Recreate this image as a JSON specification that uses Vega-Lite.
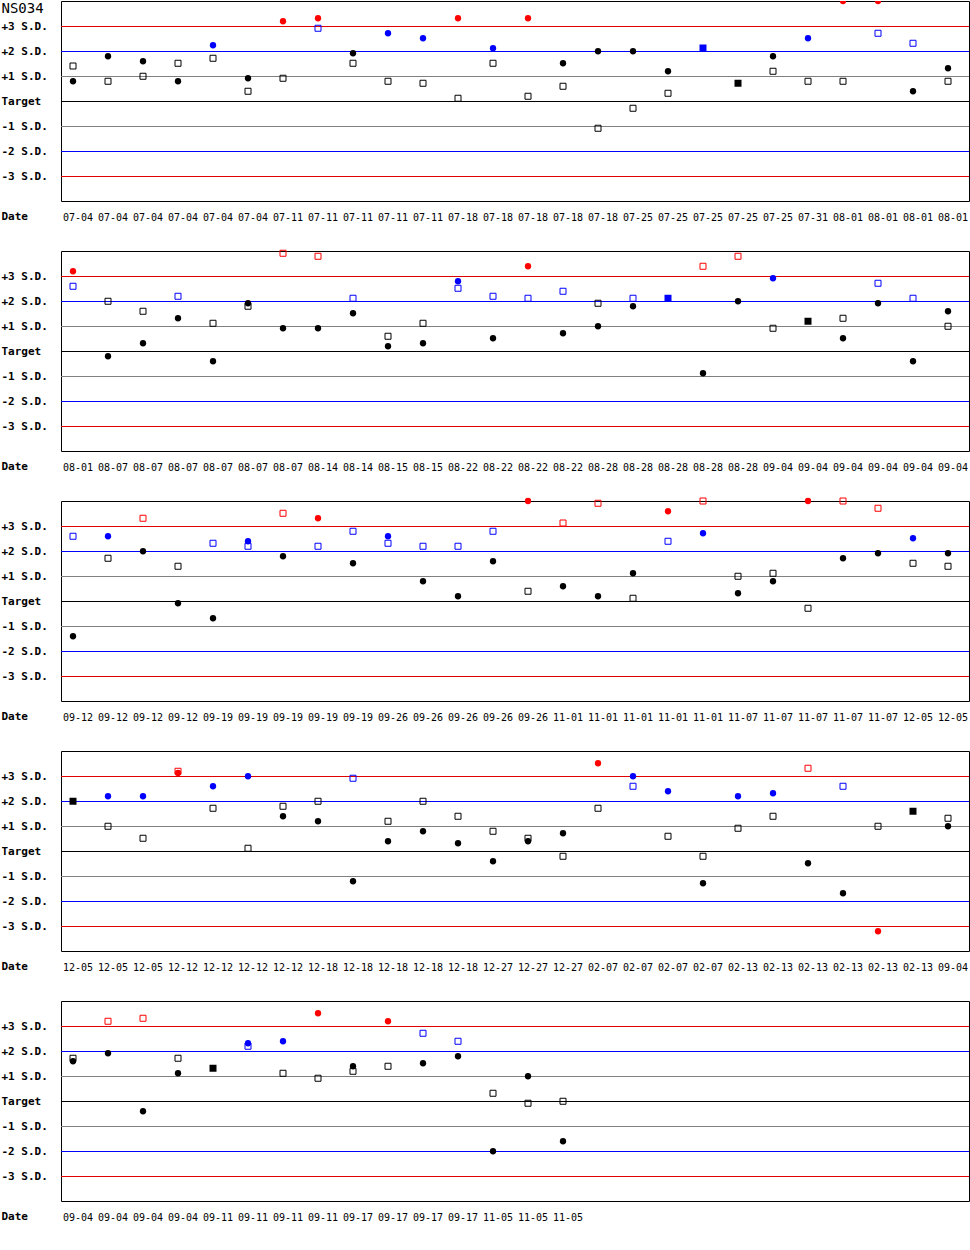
{
"$schema": "https://vega.github.io/schema/vega-lite/v6.json",
"padding": 0,
"background": "white",
"bounds": "flush",
"spacing": 50,
"config": {"view": {"stroke": "#000000", "strokeWidth": 1}},
"datasets": {
"levels": [
{"lv":3,"k":"sd3"},{"lv":2,"k":"sd2"},{"lv":1,"k":"sd1"},{"lv":0,"k":"t"},{"lv":-1,"k":"sd1"},{"lv":-2,"k":"sd2"},{"lv":-3,"k":"sd3"}
],
"pts": [
{"p":1,"i":0,"m":"o","f":"k","v":1.4},{"p":1,"i":0,"m":"c","f":"k","v":0.79},
{"p":1,"i":1,"m":"c","f":"k","v":1.79},{"p":1,"i":1,"m":"o","f":"k","v":0.79},
{"p":1,"i":2,"m":"c","f":"k","v":1.59},{"p":1,"i":2,"m":"o","f":"k","v":0.99},
{"p":1,"i":3,"m":"o","f":"k","v":1.51},{"p":1,"i":3,"m":"c","f":"k","v":0.79},
{"p":1,"i":4,"m":"c","f":"b","v":2.23},{"p":1,"i":4,"m":"o","f":"k","v":1.71},
{"p":1,"i":5,"m":"c","f":"k","v":0.91},{"p":1,"i":5,"m":"o","f":"k","v":0.39},
{"p":1,"i":6,"m":"c","f":"r","v":3.19},{"p":1,"i":6,"m":"o","f":"k","v":0.91},
{"p":1,"i":7,"m":"c","f":"r","v":3.31},{"p":1,"i":7,"m":"o","f":"b","v":2.91},
{"p":1,"i":8,"m":"c","f":"k","v":1.91},{"p":1,"i":8,"m":"o","f":"k","v":1.51},
{"p":1,"i":9,"m":"c","f":"b","v":2.71},{"p":1,"i":9,"m":"o","f":"k","v":0.79},
{"p":1,"i":10,"m":"c","f":"b","v":2.51},{"p":1,"i":10,"m":"o","f":"k","v":0.71},
{"p":1,"i":11,"m":"c","f":"r","v":3.31},{"p":1,"i":11,"m":"o","f":"k","v":0.11},
{"p":1,"i":12,"m":"c","f":"b","v":2.11},{"p":1,"i":12,"m":"o","f":"k","v":1.51},
{"p":1,"i":13,"m":"c","f":"r","v":3.31},{"p":1,"i":13,"m":"o","f":"k","v":0.19},
{"p":1,"i":14,"m":"c","f":"k","v":1.51},{"p":1,"i":14,"m":"o","f":"k","v":0.59},
{"p":1,"i":15,"m":"c","f":"k","v":1.99},{"p":1,"i":15,"m":"o","f":"k","v":-1.09},
{"p":1,"i":16,"m":"c","f":"k","v":1.99},{"p":1,"i":16,"m":"o","f":"k","v":-0.29},
{"p":1,"i":17,"m":"c","f":"k","v":1.19},{"p":1,"i":17,"m":"o","f":"k","v":0.31},
{"p":1,"i":18,"m":"s","f":"b","v":2.12},
{"p":1,"i":19,"m":"s","f":"k","v":0.71},
{"p":1,"i":20,"m":"c","f":"k","v":1.79},{"p":1,"i":20,"m":"o","f":"k","v":1.19},
{"p":1,"i":21,"m":"c","f":"b","v":2.51},{"p":1,"i":21,"m":"o","f":"k","v":0.79},
{"p":1,"i":22,"m":"c","f":"r","v":4.0},{"p":1,"i":22,"m":"o","f":"k","v":0.79},
{"p":1,"i":23,"m":"c","f":"r","v":4.0},{"p":1,"i":23,"m":"o","f":"b","v":2.71},
{"p":1,"i":24,"m":"o","f":"b","v":2.31},{"p":1,"i":24,"m":"c","f":"k","v":0.39},
{"p":1,"i":25,"m":"c","f":"k","v":1.31},{"p":1,"i":25,"m":"o","f":"k","v":0.79},

{"p":2,"i":0,"m":"c","f":"r","v":3.19},{"p":2,"i":0,"m":"o","f":"b","v":2.59},
{"p":2,"i":1,"m":"o","f":"k","v":1.99},{"p":2,"i":1,"m":"c","f":"k","v":-0.21},
{"p":2,"i":2,"m":"o","f":"k","v":1.59},{"p":2,"i":2,"m":"c","f":"k","v":0.31},
{"p":2,"i":3,"m":"o","f":"b","v":2.19},{"p":2,"i":3,"m":"c","f":"k","v":1.31},
{"p":2,"i":4,"m":"o","f":"k","v":1.11},{"p":2,"i":4,"m":"c","f":"k","v":-0.41},
{"p":2,"i":5,"m":"c","f":"k","v":1.91},{"p":2,"i":5,"m":"o","f":"k","v":1.79},
{"p":2,"i":6,"m":"o","f":"r","v":3.91},{"p":2,"i":6,"m":"c","f":"k","v":0.91},
{"p":2,"i":7,"m":"o","f":"r","v":3.79},{"p":2,"i":7,"m":"c","f":"k","v":0.91},
{"p":2,"i":8,"m":"o","f":"b","v":2.11},{"p":2,"i":8,"m":"c","f":"k","v":1.51},
{"p":2,"i":9,"m":"o","f":"k","v":0.59},{"p":2,"i":9,"m":"c","f":"k","v":0.19},
{"p":2,"i":10,"m":"o","f":"k","v":1.11},{"p":2,"i":10,"m":"c","f":"k","v":0.31},
{"p":2,"i":11,"m":"c","f":"b","v":2.79},{"p":2,"i":11,"m":"o","f":"b","v":2.51},
{"p":2,"i":12,"m":"o","f":"b","v":2.19},{"p":2,"i":12,"m":"c","f":"k","v":0.51},
{"p":2,"i":13,"m":"c","f":"r","v":3.39},{"p":2,"i":13,"m":"o","f":"b","v":2.11},
{"p":2,"i":14,"m":"o","f":"b","v":2.39},{"p":2,"i":14,"m":"c","f":"k","v":0.71},
{"p":2,"i":15,"m":"o","f":"k","v":1.91},{"p":2,"i":15,"m":"c","f":"k","v":0.99},
{"p":2,"i":16,"m":"o","f":"b","v":2.11},{"p":2,"i":16,"m":"c","f":"k","v":1.79},
{"p":2,"i":17,"m":"s","f":"b","v":2.11},
{"p":2,"i":18,"m":"o","f":"r","v":3.39},{"p":2,"i":18,"m":"c","f":"k","v":-0.89},
{"p":2,"i":19,"m":"o","f":"r","v":3.79},{"p":2,"i":19,"m":"c","f":"k","v":1.99},
{"p":2,"i":20,"m":"c","f":"b","v":2.91},{"p":2,"i":20,"m":"o","f":"k","v":0.91},
{"p":2,"i":21,"m":"s","f":"k","v":1.19},
{"p":2,"i":22,"m":"o","f":"k","v":1.31},{"p":2,"i":22,"m":"c","f":"k","v":0.51},
{"p":2,"i":23,"m":"o","f":"b","v":2.71},{"p":2,"i":23,"m":"c","f":"k","v":1.91},
{"p":2,"i":24,"m":"o","f":"b","v":2.11},{"p":2,"i":24,"m":"c","f":"k","v":-0.41},
{"p":2,"i":25,"m":"c","f":"k","v":1.59},{"p":2,"i":25,"m":"o","f":"k","v":0.99},

{"p":3,"i":0,"m":"o","f":"b","v":2.59},{"p":3,"i":0,"m":"c","f":"k","v":-1.41},
{"p":3,"i":1,"m":"c","f":"b","v":2.59},{"p":3,"i":1,"m":"o","f":"k","v":1.71},
{"p":3,"i":2,"m":"o","f":"r","v":3.31},{"p":3,"i":2,"m":"c","f":"k","v":1.99},
{"p":3,"i":3,"m":"o","f":"k","v":1.39},{"p":3,"i":3,"m":"c","f":"k","v":-0.09},
{"p":3,"i":4,"m":"o","f":"b","v":2.31},{"p":3,"i":4,"m":"c","f":"k","v":-0.69},
{"p":3,"i":5,"m":"c","f":"b","v":2.39},{"p":3,"i":5,"m":"o","f":"b","v":2.19},
{"p":3,"i":6,"m":"o","f":"r","v":3.51},{"p":3,"i":6,"m":"c","f":"k","v":1.79},
{"p":3,"i":7,"m":"c","f":"r","v":3.31},{"p":3,"i":7,"m":"o","f":"b","v":2.19},
{"p":3,"i":8,"m":"o","f":"b","v":2.79},{"p":3,"i":8,"m":"c","f":"k","v":1.51},
{"p":3,"i":9,"m":"c","f":"b","v":2.59},{"p":3,"i":9,"m":"o","f":"b","v":2.31},
{"p":3,"i":10,"m":"o","f":"b","v":2.19},{"p":3,"i":10,"m":"c","f":"k","v":0.79},
{"p":3,"i":11,"m":"o","f":"b","v":2.19},{"p":3,"i":11,"m":"c","f":"k","v":0.19},
{"p":3,"i":12,"m":"o","f":"b","v":2.79},{"p":3,"i":12,"m":"c","f":"k","v":1.59},
{"p":3,"i":13,"m":"c","f":"r","v":4.0},{"p":3,"i":13,"m":"o","f":"k","v":0.39},
{"p":3,"i":14,"m":"o","f":"r","v":3.12},{"p":3,"i":14,"m":"c","f":"k","v":0.59},
{"p":3,"i":15,"m":"o","f":"r","v":3.91},{"p":3,"i":15,"m":"c","f":"k","v":0.19},
{"p":3,"i":16,"m":"c","f":"k","v":1.11},{"p":3,"i":16,"m":"o","f":"k","v":0.11},
{"p":3,"i":17,"m":"c","f":"r","v":3.59},{"p":3,"i":17,"m":"o","f":"b","v":2.39},
{"p":3,"i":18,"m":"o","f":"r","v":4.0},{"p":3,"i":18,"m":"c","f":"b","v":2.71},
{"p":3,"i":19,"m":"o","f":"k","v":0.99},{"p":3,"i":19,"m":"c","f":"k","v":0.31},
{"p":3,"i":20,"m":"o","f":"k","v":1.11},{"p":3,"i":20,"m":"c","f":"k","v":0.79},
{"p":3,"i":21,"m":"c","f":"r","v":4.0},{"p":3,"i":21,"m":"o","f":"k","v":-0.29},
{"p":3,"i":22,"m":"o","f":"r","v":4.0},{"p":3,"i":22,"m":"c","f":"k","v":1.71},
{"p":3,"i":23,"m":"o","f":"r","v":3.71},{"p":3,"i":23,"m":"c","f":"k","v":1.91},
{"p":3,"i":24,"m":"c","f":"b","v":2.51},{"p":3,"i":24,"m":"o","f":"k","v":1.51},
{"p":3,"i":25,"m":"c","f":"k","v":1.91},{"p":3,"i":25,"m":"o","f":"k","v":1.39},

{"p":4,"i":0,"m":"s","f":"k","v":1.99},
{"p":4,"i":1,"m":"c","f":"b","v":2.19},{"p":4,"i":1,"m":"o","f":"k","v":0.99},
{"p":4,"i":2,"m":"c","f":"b","v":2.19},{"p":4,"i":2,"m":"o","f":"k","v":0.51},
{"p":4,"i":3,"m":"o","f":"r","v":3.19},{"p":4,"i":3,"m":"c","f":"r","v":3.12},
{"p":4,"i":4,"m":"c","f":"b","v":2.59},{"p":4,"i":4,"m":"o","f":"k","v":1.71},
{"p":4,"i":5,"m":"c","f":"b","v":2.99},{"p":4,"i":5,"m":"o","f":"k","v":0.11},
{"p":4,"i":6,"m":"o","f":"k","v":1.79},{"p":4,"i":6,"m":"c","f":"k","v":1.39},
{"p":4,"i":7,"m":"o","f":"k","v":1.99},{"p":4,"i":7,"m":"c","f":"k","v":1.19},
{"p":4,"i":8,"m":"o","f":"b","v":2.91},{"p":4,"i":8,"m":"c","f":"k","v":-1.21},
{"p":4,"i":9,"m":"o","f":"k","v":1.19},{"p":4,"i":9,"m":"c","f":"k","v":0.39},
{"p":4,"i":10,"m":"o","f":"k","v":1.99},{"p":4,"i":10,"m":"c","f":"k","v":0.79},
{"p":4,"i":11,"m":"o","f":"k","v":1.39},{"p":4,"i":11,"m":"c","f":"k","v":0.31},
{"p":4,"i":12,"m":"o","f":"k","v":0.79},{"p":4,"i":12,"m":"c","f":"k","v":-0.41},
{"p":4,"i":13,"m":"o","f":"k","v":0.51},{"p":4,"i":13,"m":"c","f":"k","v":0.39},
{"p":4,"i":14,"m":"c","f":"k","v":0.71},{"p":4,"i":14,"m":"o","f":"k","v":-0.21},
{"p":4,"i":15,"m":"c","f":"r","v":3.51},{"p":4,"i":15,"m":"o","f":"k","v":1.71},
{"p":4,"i":16,"m":"c","f":"b","v":2.99},{"p":4,"i":16,"m":"o","f":"b","v":2.59},
{"p":4,"i":17,"m":"c","f":"b","v":2.39},{"p":4,"i":17,"m":"o","f":"k","v":0.59},
{"p":4,"i":18,"m":"o","f":"k","v":-0.21},{"p":4,"i":18,"m":"c","f":"k","v":-1.29},
{"p":4,"i":19,"m":"c","f":"b","v":2.19},{"p":4,"i":19,"m":"o","f":"k","v":0.91},
{"p":4,"i":20,"m":"c","f":"b","v":2.31},{"p":4,"i":20,"m":"o","f":"k","v":1.39},
{"p":4,"i":21,"m":"o","f":"r","v":3.31},{"p":4,"i":21,"m":"c","f":"k","v":-0.49},
{"p":4,"i":22,"m":"o","f":"b","v":2.59},{"p":4,"i":22,"m":"c","f":"k","v":-1.69},
{"p":4,"i":23,"m":"o","f":"k","v":0.99},{"p":4,"i":23,"m":"c","f":"r","v":-3.21},
{"p":4,"i":24,"m":"s","f":"k","v":1.59},
{"p":4,"i":25,"m":"o","f":"k","v":1.31},{"p":4,"i":25,"m":"c","f":"k","v":0.99},

{"p":5,"i":0,"m":"o","f":"k","v":1.71},{"p":5,"i":0,"m":"c","f":"k","v":1.59},
{"p":5,"i":1,"m":"o","f":"r","v":3.19},{"p":5,"i":1,"m":"c","f":"k","v":1.91},
{"p":5,"i":2,"m":"o","f":"r","v":3.31},{"p":5,"i":2,"m":"c","f":"k","v":-0.41},
{"p":5,"i":3,"m":"o","f":"k","v":1.71},{"p":5,"i":3,"m":"c","f":"k","v":1.11},
{"p":5,"i":4,"m":"s","f":"k","v":1.31},
{"p":5,"i":5,"m":"c","f":"b","v":2.31},{"p":5,"i":5,"m":"o","f":"b","v":2.19},
{"p":5,"i":6,"m":"c","f":"b","v":2.39},{"p":5,"i":6,"m":"o","f":"k","v":1.11},
{"p":5,"i":7,"m":"c","f":"r","v":3.51},{"p":5,"i":7,"m":"o","f":"k","v":0.91},
{"p":5,"i":8,"m":"c","f":"k","v":1.39},{"p":5,"i":8,"m":"o","f":"k","v":1.19},
{"p":5,"i":9,"m":"c","f":"r","v":3.19},{"p":5,"i":9,"m":"o","f":"k","v":1.39},
{"p":5,"i":10,"m":"o","f":"b","v":2.71},{"p":5,"i":10,"m":"c","f":"k","v":1.51},
{"p":5,"i":11,"m":"o","f":"b","v":2.39},{"p":5,"i":11,"m":"c","f":"k","v":1.79},
{"p":5,"i":12,"m":"o","f":"k","v":0.31},{"p":5,"i":12,"m":"c","f":"k","v":-2.01},
{"p":5,"i":13,"m":"c","f":"k","v":0.99},{"p":5,"i":13,"m":"o","f":"k","v":-0.09},
{"p":5,"i":14,"m":"o","f":"k","v":-0.01},{"p":5,"i":14,"m":"c","f":"k","v":-1.61}
],
"dates": [
{"p":1,"i":0,"d":"07-04"},{"p":1,"i":1,"d":"07-04"},{"p":1,"i":2,"d":"07-04"},{"p":1,"i":3,"d":"07-04"},{"p":1,"i":4,"d":"07-04"},{"p":1,"i":5,"d":"07-04"},
{"p":1,"i":6,"d":"07-11"},{"p":1,"i":7,"d":"07-11"},{"p":1,"i":8,"d":"07-11"},{"p":1,"i":9,"d":"07-11"},{"p":1,"i":10,"d":"07-11"},
{"p":1,"i":11,"d":"07-18"},{"p":1,"i":12,"d":"07-18"},{"p":1,"i":13,"d":"07-18"},{"p":1,"i":14,"d":"07-18"},{"p":1,"i":15,"d":"07-18"},
{"p":1,"i":16,"d":"07-25"},{"p":1,"i":17,"d":"07-25"},{"p":1,"i":18,"d":"07-25"},{"p":1,"i":19,"d":"07-25"},{"p":1,"i":20,"d":"07-25"},
{"p":1,"i":21,"d":"07-31"},{"p":1,"i":22,"d":"08-01"},{"p":1,"i":23,"d":"08-01"},{"p":1,"i":24,"d":"08-01"},{"p":1,"i":25,"d":"08-01"},
{"p":2,"i":0,"d":"08-01"},{"p":2,"i":1,"d":"08-07"},{"p":2,"i":2,"d":"08-07"},{"p":2,"i":3,"d":"08-07"},{"p":2,"i":4,"d":"08-07"},{"p":2,"i":5,"d":"08-07"},{"p":2,"i":6,"d":"08-07"},
{"p":2,"i":7,"d":"08-14"},{"p":2,"i":8,"d":"08-14"},{"p":2,"i":9,"d":"08-15"},{"p":2,"i":10,"d":"08-15"},
{"p":2,"i":11,"d":"08-22"},{"p":2,"i":12,"d":"08-22"},{"p":2,"i":13,"d":"08-22"},{"p":2,"i":14,"d":"08-22"},
{"p":2,"i":15,"d":"08-28"},{"p":2,"i":16,"d":"08-28"},{"p":2,"i":17,"d":"08-28"},{"p":2,"i":18,"d":"08-28"},{"p":2,"i":19,"d":"08-28"},
{"p":2,"i":20,"d":"09-04"},{"p":2,"i":21,"d":"09-04"},{"p":2,"i":22,"d":"09-04"},{"p":2,"i":23,"d":"09-04"},{"p":2,"i":24,"d":"09-04"},{"p":2,"i":25,"d":"09-04"},
{"p":3,"i":0,"d":"09-12"},{"p":3,"i":1,"d":"09-12"},{"p":3,"i":2,"d":"09-12"},{"p":3,"i":3,"d":"09-12"},
{"p":3,"i":4,"d":"09-19"},{"p":3,"i":5,"d":"09-19"},{"p":3,"i":6,"d":"09-19"},{"p":3,"i":7,"d":"09-19"},{"p":3,"i":8,"d":"09-19"},
{"p":3,"i":9,"d":"09-26"},{"p":3,"i":10,"d":"09-26"},{"p":3,"i":11,"d":"09-26"},{"p":3,"i":12,"d":"09-26"},{"p":3,"i":13,"d":"09-26"},
{"p":3,"i":14,"d":"11-01"},{"p":3,"i":15,"d":"11-01"},{"p":3,"i":16,"d":"11-01"},{"p":3,"i":17,"d":"11-01"},{"p":3,"i":18,"d":"11-01"},
{"p":3,"i":19,"d":"11-07"},{"p":3,"i":20,"d":"11-07"},{"p":3,"i":21,"d":"11-07"},{"p":3,"i":22,"d":"11-07"},{"p":3,"i":23,"d":"11-07"},
{"p":3,"i":24,"d":"12-05"},{"p":3,"i":25,"d":"12-05"},
{"p":4,"i":0,"d":"12-05"},{"p":4,"i":1,"d":"12-05"},{"p":4,"i":2,"d":"12-05"},
{"p":4,"i":3,"d":"12-12"},{"p":4,"i":4,"d":"12-12"},{"p":4,"i":5,"d":"12-12"},{"p":4,"i":6,"d":"12-12"},
{"p":4,"i":7,"d":"12-18"},{"p":4,"i":8,"d":"12-18"},{"p":4,"i":9,"d":"12-18"},{"p":4,"i":10,"d":"12-18"},{"p":4,"i":11,"d":"12-18"},
{"p":4,"i":12,"d":"12-27"},{"p":4,"i":13,"d":"12-27"},{"p":4,"i":14,"d":"12-27"},
{"p":4,"i":15,"d":"02-07"},{"p":4,"i":16,"d":"02-07"},{"p":4,"i":17,"d":"02-07"},{"p":4,"i":18,"d":"02-07"},
{"p":4,"i":19,"d":"02-13"},{"p":4,"i":20,"d":"02-13"},{"p":4,"i":21,"d":"02-13"},{"p":4,"i":22,"d":"02-13"},{"p":4,"i":23,"d":"02-13"},{"p":4,"i":24,"d":"02-13"},
{"p":4,"i":25,"d":"09-04"},
{"p":5,"i":0,"d":"09-04"},{"p":5,"i":1,"d":"09-04"},{"p":5,"i":2,"d":"09-04"},{"p":5,"i":3,"d":"09-04"},
{"p":5,"i":4,"d":"09-11"},{"p":5,"i":5,"d":"09-11"},{"p":5,"i":6,"d":"09-11"},{"p":5,"i":7,"d":"09-11"},
{"p":5,"i":8,"d":"09-17"},{"p":5,"i":9,"d":"09-17"},{"p":5,"i":10,"d":"09-17"},{"p":5,"i":11,"d":"09-17"},
{"p":5,"i":12,"d":"11-05"},{"p":5,"i":13,"d":"11-05"},{"p":5,"i":14,"d":"11-05"}
]
},
"vconcat": [
{"width": 908, "height": 200, "layer": [
 {"data": {"name": "levels"}, "mark": {"type": "rule", "strokeWidth": 1, "yOffset": 0.5},
  "encoding": {"y": {"field": "lv", "type": "quantitative", "title": null},
   "stroke": {"field": "k", "type": "nominal", "scale": {"domain": ["sd3", "sd2", "sd1", "t"], "range": ["#e00000", "#0000ff", "#808080", "#000000"]}, "legend": null}}},
 {"data": {"name": "pts"}, "transform": [{"filter": "datum.p == 1 && datum.m == 'o'"}],
  "mark": {"type": "point", "shape": "square", "filled": false, "size": 36, "strokeWidth": 1, "opacity": 1, "clip": true},
  "encoding": {
   "x": {"field": "i", "type": "quantitative", "scale": {"domain": [-0.343, 25.6], "nice": false, "zero": false},
    "axis": {"title": "Date", "labels": false, "ticks": false, "domain": false, "grid": false, "titleX": -60, "titleY": 15, "titleAlign": "left", "titleBaseline": "middle", "titleFont": "DejaVu Sans Mono", "titleFontSize": 11, "titleFontWeight": "bold", "titleColor": "#000000"}},
   "y": {"field": "v", "type": "quantitative", "scale": {"domain": [-4, 4], "nice": false, "zero": false},
    "axis": {"title": null, "values": [3.7, 3, 2, 1, 0, -1, -2, -3], "tickCount": 20, "grid": false,
     "ticks": false, "tickSize": 0, "domain": false, "labelAlign": "left", "labelBaseline": "middle", "labelPadding": 60, "labelFont": "DejaVu Sans Mono",
     "labelFontSize": {"condition": {"test": "datum.value == 3.7", "value": 14}, "value": 11},
     "labelFontWeight": {"condition": {"test": "datum.value == 3.7", "value": "normal"}, "value": "bold"},
     "labelColor": "#000000", "labelOverlap": false, "labelBound": false,
     "labelExpr": "datum.value == 3.7 ? 'NS034' : datum.value == 0 ? 'Target' : (datum.value > 0 ? '+' : '') + datum.value + ' S.D.'"}},
   "color": {"field": "f", "type": "nominal", "scale": {"domain": ["k", "b", "r"], "range": ["#000000", "#0000ff", "#ff0000"]}, "legend": null}}},
 {"data": {"name": "pts"}, "transform": [{"filter": "datum.p == 1 && datum.m == 's'"}],
  "mark": {"type": "point", "shape": "square", "filled": true, "size": 49, "opacity": 1, "clip": true},
  "encoding": {"x": {"field": "i", "type": "quantitative", "title": "Date"},
   "y": {"field": "v", "type": "quantitative", "title": null},
   "color": {"field": "f", "type": "nominal", "legend": null}}},
 {"data": {"name": "pts"}, "transform": [{"filter": "datum.p == 1 && datum.m == 'c'"}],
  "mark": {"type": "point", "shape": "circle", "filled": true, "size": 40, "opacity": 1, "clip": true},
  "encoding": {"x": {"field": "i", "type": "quantitative", "title": "Date"},
   "y": {"field": "v", "type": "quantitative", "title": null},
   "color": {"field": "f", "type": "nominal", "legend": null}}},
 {"data": {"name": "dates"}, "transform": [{"filter": "datum.p == 1"}],
  "mark": {"type": "text", "font": "DejaVu Sans Mono", "fontSize": 10, "dx": 5, "baseline": "middle", "align": "center", "color": "#000000"},
  "encoding": {"x": {"field": "i", "type": "quantitative", "title": "Date"},
   "y": {"datum": -4.68, "type": "quantitative", "title": null},
   "text": {"field": "d"}}}
]},
{"width": 908, "height": 200, "layer": [
 {"data": {"name": "levels"}, "mark": {"type": "rule", "strokeWidth": 1, "yOffset": 0.5},
  "encoding": {"y": {"field": "lv", "type": "quantitative", "title": null},
   "stroke": {"field": "k", "type": "nominal", "scale": {"domain": ["sd3", "sd2", "sd1", "t"], "range": ["#e00000", "#0000ff", "#808080", "#000000"]}, "legend": null}}},
 {"data": {"name": "pts"}, "transform": [{"filter": "datum.p == 2 && datum.m == 'o'"}],
  "mark": {"type": "point", "shape": "square", "filled": false, "size": 36, "strokeWidth": 1, "opacity": 1},
  "encoding": {
   "x": {"field": "i", "type": "quantitative", "scale": {"domain": [-0.343, 25.6], "nice": false, "zero": false},
    "axis": {"title": "Date", "labels": false, "ticks": false, "domain": false, "grid": false, "titleX": -60, "titleY": 15, "titleAlign": "left", "titleBaseline": "middle", "titleFont": "DejaVu Sans Mono", "titleFontSize": 11, "titleFontWeight": "bold", "titleColor": "#000000"}},
   "y": {"field": "v", "type": "quantitative", "scale": {"domain": [-4, 4], "nice": false, "zero": false},
    "axis": {"title": null, "values": [3, 2, 1, 0, -1, -2, -3], "tickCount": 20, "grid": false,
     "ticks": false, "tickSize": 0, "domain": false, "labelAlign": "left", "labelBaseline": "middle", "labelPadding": 60, "labelFont": "DejaVu Sans Mono", "labelFontSize": 11, "labelFontWeight": "bold",
     "labelColor": "#000000", "labelOverlap": false, "labelBound": false,
     "labelExpr": "datum.value == 0 ? 'Target' : (datum.value > 0 ? '+' : '') + datum.value + ' S.D.'"}},
   "color": {"field": "f", "type": "nominal", "scale": {"domain": ["k", "b", "r"], "range": ["#000000", "#0000ff", "#ff0000"]}, "legend": null}}},
 {"data": {"name": "pts"}, "transform": [{"filter": "datum.p == 2 && datum.m == 's'"}],
  "mark": {"type": "point", "shape": "square", "filled": true, "size": 49, "opacity": 1},
  "encoding": {"x": {"field": "i", "type": "quantitative", "title": "Date"},
   "y": {"field": "v", "type": "quantitative", "title": null},
   "color": {"field": "f", "type": "nominal", "legend": null}}},
 {"data": {"name": "pts"}, "transform": [{"filter": "datum.p == 2 && datum.m == 'c'"}],
  "mark": {"type": "point", "shape": "circle", "filled": true, "size": 40, "opacity": 1},
  "encoding": {"x": {"field": "i", "type": "quantitative", "title": "Date"},
   "y": {"field": "v", "type": "quantitative", "title": null},
   "color": {"field": "f", "type": "nominal", "legend": null}}},
 {"data": {"name": "dates"}, "transform": [{"filter": "datum.p == 2"}],
  "mark": {"type": "text", "font": "DejaVu Sans Mono", "fontSize": 10, "dx": 5, "baseline": "middle", "align": "center", "color": "#000000"},
  "encoding": {"x": {"field": "i", "type": "quantitative", "title": "Date"},
   "y": {"datum": -4.68, "type": "quantitative", "title": null},
   "text": {"field": "d"}}}
]},
{"width": 908, "height": 200, "layer": [
 {"data": {"name": "levels"}, "mark": {"type": "rule", "strokeWidth": 1, "yOffset": 0.5},
  "encoding": {"y": {"field": "lv", "type": "quantitative", "title": null},
   "stroke": {"field": "k", "type": "nominal", "scale": {"domain": ["sd3", "sd2", "sd1", "t"], "range": ["#e00000", "#0000ff", "#808080", "#000000"]}, "legend": null}}},
 {"data": {"name": "pts"}, "transform": [{"filter": "datum.p == 3 && datum.m == 'o'"}],
  "mark": {"type": "point", "shape": "square", "filled": false, "size": 36, "strokeWidth": 1, "opacity": 1},
  "encoding": {
   "x": {"field": "i", "type": "quantitative", "scale": {"domain": [-0.343, 25.6], "nice": false, "zero": false},
    "axis": {"title": "Date", "labels": false, "ticks": false, "domain": false, "grid": false, "titleX": -60, "titleY": 15, "titleAlign": "left", "titleBaseline": "middle", "titleFont": "DejaVu Sans Mono", "titleFontSize": 11, "titleFontWeight": "bold", "titleColor": "#000000"}},
   "y": {"field": "v", "type": "quantitative", "scale": {"domain": [-4, 4], "nice": false, "zero": false},
    "axis": {"title": null, "values": [3, 2, 1, 0, -1, -2, -3], "tickCount": 20, "grid": false,
     "ticks": false, "tickSize": 0, "domain": false, "labelAlign": "left", "labelBaseline": "middle", "labelPadding": 60, "labelFont": "DejaVu Sans Mono", "labelFontSize": 11, "labelFontWeight": "bold",
     "labelColor": "#000000", "labelOverlap": false, "labelBound": false,
     "labelExpr": "datum.value == 0 ? 'Target' : (datum.value > 0 ? '+' : '') + datum.value + ' S.D.'"}},
   "color": {"field": "f", "type": "nominal", "scale": {"domain": ["k", "b", "r"], "range": ["#000000", "#0000ff", "#ff0000"]}, "legend": null}}},
 {"data": {"name": "pts"}, "transform": [{"filter": "datum.p == 3 && datum.m == 's'"}],
  "mark": {"type": "point", "shape": "square", "filled": true, "size": 49, "opacity": 1},
  "encoding": {"x": {"field": "i", "type": "quantitative", "title": "Date"},
   "y": {"field": "v", "type": "quantitative", "title": null},
   "color": {"field": "f", "type": "nominal", "legend": null}}},
 {"data": {"name": "pts"}, "transform": [{"filter": "datum.p == 3 && datum.m == 'c'"}],
  "mark": {"type": "point", "shape": "circle", "filled": true, "size": 40, "opacity": 1},
  "encoding": {"x": {"field": "i", "type": "quantitative", "title": "Date"},
   "y": {"field": "v", "type": "quantitative", "title": null},
   "color": {"field": "f", "type": "nominal", "legend": null}}},
 {"data": {"name": "dates"}, "transform": [{"filter": "datum.p == 3"}],
  "mark": {"type": "text", "font": "DejaVu Sans Mono", "fontSize": 10, "dx": 5, "baseline": "middle", "align": "center", "color": "#000000"},
  "encoding": {"x": {"field": "i", "type": "quantitative", "title": "Date"},
   "y": {"datum": -4.68, "type": "quantitative", "title": null},
   "text": {"field": "d"}}}
]},
{"width": 908, "height": 200, "layer": [
 {"data": {"name": "levels"}, "mark": {"type": "rule", "strokeWidth": 1, "yOffset": 0.5},
  "encoding": {"y": {"field": "lv", "type": "quantitative", "title": null},
   "stroke": {"field": "k", "type": "nominal", "scale": {"domain": ["sd3", "sd2", "sd1", "t"], "range": ["#e00000", "#0000ff", "#808080", "#000000"]}, "legend": null}}},
 {"data": {"name": "pts"}, "transform": [{"filter": "datum.p == 4 && datum.m == 'o'"}],
  "mark": {"type": "point", "shape": "square", "filled": false, "size": 36, "strokeWidth": 1, "opacity": 1},
  "encoding": {
   "x": {"field": "i", "type": "quantitative", "scale": {"domain": [-0.343, 25.6], "nice": false, "zero": false},
    "axis": {"title": "Date", "labels": false, "ticks": false, "domain": false, "grid": false, "titleX": -60, "titleY": 15, "titleAlign": "left", "titleBaseline": "middle", "titleFont": "DejaVu Sans Mono", "titleFontSize": 11, "titleFontWeight": "bold", "titleColor": "#000000"}},
   "y": {"field": "v", "type": "quantitative", "scale": {"domain": [-4, 4], "nice": false, "zero": false},
    "axis": {"title": null, "values": [3, 2, 1, 0, -1, -2, -3], "tickCount": 20, "grid": false,
     "ticks": false, "tickSize": 0, "domain": false, "labelAlign": "left", "labelBaseline": "middle", "labelPadding": 60, "labelFont": "DejaVu Sans Mono", "labelFontSize": 11, "labelFontWeight": "bold",
     "labelColor": "#000000", "labelOverlap": false, "labelBound": false,
     "labelExpr": "datum.value == 0 ? 'Target' : (datum.value > 0 ? '+' : '') + datum.value + ' S.D.'"}},
   "color": {"field": "f", "type": "nominal", "scale": {"domain": ["k", "b", "r"], "range": ["#000000", "#0000ff", "#ff0000"]}, "legend": null}}},
 {"data": {"name": "pts"}, "transform": [{"filter": "datum.p == 4 && datum.m == 's'"}],
  "mark": {"type": "point", "shape": "square", "filled": true, "size": 49, "opacity": 1},
  "encoding": {"x": {"field": "i", "type": "quantitative", "title": "Date"},
   "y": {"field": "v", "type": "quantitative", "title": null},
   "color": {"field": "f", "type": "nominal", "legend": null}}},
 {"data": {"name": "pts"}, "transform": [{"filter": "datum.p == 4 && datum.m == 'c'"}],
  "mark": {"type": "point", "shape": "circle", "filled": true, "size": 40, "opacity": 1},
  "encoding": {"x": {"field": "i", "type": "quantitative", "title": "Date"},
   "y": {"field": "v", "type": "quantitative", "title": null},
   "color": {"field": "f", "type": "nominal", "legend": null}}},
 {"data": {"name": "dates"}, "transform": [{"filter": "datum.p == 4"}],
  "mark": {"type": "text", "font": "DejaVu Sans Mono", "fontSize": 10, "dx": 5, "baseline": "middle", "align": "center", "color": "#000000"},
  "encoding": {"x": {"field": "i", "type": "quantitative", "title": "Date"},
   "y": {"datum": -4.68, "type": "quantitative", "title": null},
   "text": {"field": "d"}}}
]},
{"width": 908, "height": 200, "layer": [
 {"data": {"name": "levels"}, "mark": {"type": "rule", "strokeWidth": 1, "yOffset": 0.5},
  "encoding": {"y": {"field": "lv", "type": "quantitative", "title": null},
   "stroke": {"field": "k", "type": "nominal", "scale": {"domain": ["sd3", "sd2", "sd1", "t"], "range": ["#e00000", "#0000ff", "#808080", "#000000"]}, "legend": null}}},
 {"data": {"name": "pts"}, "transform": [{"filter": "datum.p == 5 && datum.m == 'o'"}],
  "mark": {"type": "point", "shape": "square", "filled": false, "size": 36, "strokeWidth": 1, "opacity": 1},
  "encoding": {
   "x": {"field": "i", "type": "quantitative", "scale": {"domain": [-0.343, 25.6], "nice": false, "zero": false},
    "axis": {"title": "Date", "labels": false, "ticks": false, "domain": false, "grid": false, "titleX": -60, "titleY": 15, "titleAlign": "left", "titleBaseline": "middle", "titleFont": "DejaVu Sans Mono", "titleFontSize": 11, "titleFontWeight": "bold", "titleColor": "#000000"}},
   "y": {"field": "v", "type": "quantitative", "scale": {"domain": [-4, 4], "nice": false, "zero": false},
    "axis": {"title": null, "values": [3, 2, 1, 0, -1, -2, -3], "tickCount": 20, "grid": false,
     "ticks": false, "tickSize": 0, "domain": false, "labelAlign": "left", "labelBaseline": "middle", "labelPadding": 60, "labelFont": "DejaVu Sans Mono", "labelFontSize": 11, "labelFontWeight": "bold",
     "labelColor": "#000000", "labelOverlap": false, "labelBound": false,
     "labelExpr": "datum.value == 0 ? 'Target' : (datum.value > 0 ? '+' : '') + datum.value + ' S.D.'"}},
   "color": {"field": "f", "type": "nominal", "scale": {"domain": ["k", "b", "r"], "range": ["#000000", "#0000ff", "#ff0000"]}, "legend": null}}},
 {"data": {"name": "pts"}, "transform": [{"filter": "datum.p == 5 && datum.m == 's'"}],
  "mark": {"type": "point", "shape": "square", "filled": true, "size": 49, "opacity": 1},
  "encoding": {"x": {"field": "i", "type": "quantitative", "title": "Date"},
   "y": {"field": "v", "type": "quantitative", "title": null},
   "color": {"field": "f", "type": "nominal", "legend": null}}},
 {"data": {"name": "pts"}, "transform": [{"filter": "datum.p == 5 && datum.m == 'c'"}],
  "mark": {"type": "point", "shape": "circle", "filled": true, "size": 40, "opacity": 1},
  "encoding": {"x": {"field": "i", "type": "quantitative", "title": "Date"},
   "y": {"field": "v", "type": "quantitative", "title": null},
   "color": {"field": "f", "type": "nominal", "legend": null}}},
 {"data": {"name": "dates"}, "transform": [{"filter": "datum.p == 5"}],
  "mark": {"type": "text", "font": "DejaVu Sans Mono", "fontSize": 10, "dx": 5, "baseline": "middle", "align": "center", "color": "#000000"},
  "encoding": {"x": {"field": "i", "type": "quantitative", "title": "Date"},
   "y": {"datum": -4.68, "type": "quantitative", "title": null},
   "text": {"field": "d"}}}
]}
]
}
